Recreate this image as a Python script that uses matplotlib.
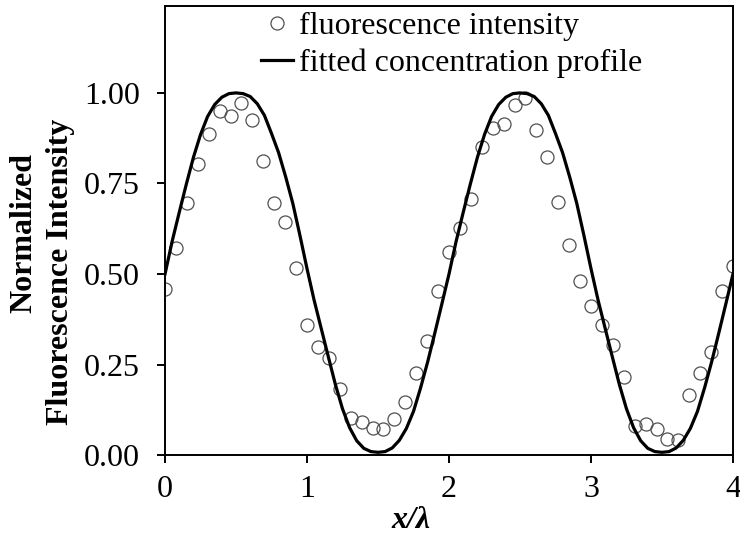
import matplotlib
matplotlib.use("Agg")
import matplotlib.pyplot as plt
from matplotlib.ticker import FormatStrFormatter

plt.rcParams["font.family"] = ["Liberation Serif", "DejaVu Serif"]

# measured fluorescence intensity along the channel
x_meas = [0.000, 0.077, 0.154, 0.231, 0.308, 0.385, 0.462, 0.538, 0.615, 0.692,
          0.769, 0.846, 0.923, 1.000, 1.077, 1.154, 1.231, 1.308, 1.385, 1.462,
          1.538, 1.615, 1.692, 1.769, 1.846, 1.923, 2.000, 2.077, 2.154, 2.231,
          2.308, 2.385, 2.462, 2.538, 2.615, 2.692, 2.769, 2.846, 2.923, 3.000,
          3.077, 3.154, 3.231, 3.308, 3.385, 3.462, 3.538, 3.615, 3.692, 3.769,
          3.846, 3.923, 4.000]
intensity = [0.459, 0.571, 0.695, 0.804, 0.886, 0.951, 0.937, 0.972, 0.926, 0.813,
             0.695, 0.644, 0.516, 0.360, 0.299, 0.268, 0.184, 0.104, 0.093, 0.076,
             0.073, 0.101, 0.146, 0.228, 0.315, 0.452, 0.561, 0.628, 0.706, 0.850,
             0.903, 0.915, 0.967, 0.985, 0.898, 0.823, 0.699, 0.580, 0.482, 0.413,
             0.360, 0.305, 0.216, 0.080, 0.087, 0.071, 0.046, 0.042, 0.166, 0.226,
             0.285, 0.452, 0.523]

# fitted concentration profile
x_fit = [0.00, 0.05, 0.10, 0.15, 0.20, 0.25, 0.30, 0.35, 0.40, 0.45,
         0.50, 0.55, 0.60, 0.65, 0.70, 0.75, 0.80, 0.85, 0.90, 0.95,
         1.00, 1.05, 1.10, 1.15, 1.20, 1.25, 1.30, 1.35, 1.40, 1.45,
         1.50, 1.55, 1.60, 1.65, 1.70, 1.75, 1.80, 1.85, 1.90, 1.95,
         2.00, 2.05, 2.10, 2.15, 2.20, 2.25, 2.30, 2.35, 2.40, 2.45,
         2.50, 2.55, 2.60, 2.65, 2.70, 2.75, 2.80, 2.85, 2.90, 2.95,
         3.00, 3.05, 3.10, 3.15, 3.20, 3.25, 3.30, 3.35, 3.40, 3.45,
         3.50, 3.55, 3.60, 3.65, 3.70, 3.75, 3.80, 3.85, 3.90, 3.95,
         4.00]
c_fit = [0.500, 0.590, 0.670, 0.748, 0.822, 0.885, 0.935, 0.968, 0.988, 0.998,
         1.000, 0.998, 0.990, 0.970, 0.938, 0.888, 0.835, 0.768, 0.695, 0.607,
         0.515, 0.428, 0.350, 0.272, 0.195, 0.128, 0.076, 0.040, 0.019, 0.010,
         0.008, 0.010, 0.020, 0.041, 0.074, 0.121, 0.186, 0.258, 0.337, 0.418,
         0.500, 0.590, 0.670, 0.748, 0.822, 0.885, 0.935, 0.968, 0.988, 0.998,
         1.000, 0.998, 0.990, 0.970, 0.938, 0.888, 0.835, 0.768, 0.695, 0.607,
         0.515, 0.428, 0.350, 0.272, 0.195, 0.128, 0.076, 0.040, 0.019, 0.010,
         0.008, 0.010, 0.020, 0.041, 0.074, 0.121, 0.186, 0.258, 0.337, 0.418,
         0.500]

xticks = [0, 1, 2, 3, 4]
yticks = [0.00, 0.25, 0.50, 0.75, 1.00]

fig = plt.figure(figsize=(7.4, 5.4), dpi=100)
ax = fig.add_axes([0.223, 0.157, 0.7675, 0.832])

ax.plot(x_meas, intensity, linestyle="none", marker="o", markersize=9.4,
        markerfacecolor="none", markeredgecolor="#505050", markeredgewidth=0.9,
        label="fluorescence intensity", zorder=2)
ax.plot(x_fit, c_fit, color="black", linewidth=2.3,
        label="fitted concentration profile", zorder=3)

ax.set_xlim(0, 4)
ax.set_ylim(0, 1.24)
ax.set_xticks(xticks)
ax.set_yticks(yticks)
ax.yaxis.set_major_formatter(FormatStrFormatter("%.2f"))
ax.tick_params(direction="out", length=6, width=1.4, labelsize=23)
ax.tick_params(axis="x", pad=8)
ax.tick_params(axis="y", pad=12)
for sp in ax.spines.values():
    sp.set_linewidth(1.4)

ax.set_xlabel("x/λ", fontsize=23, fontweight="bold", fontstyle="italic")
ax.xaxis.set_label_coords(0.433, -0.112)

fig.text(24 / 740, 1 - 233 / 540, "Normalized", rotation=90, fontsize=23,
         fontweight="bold", ha="center", va="center")
fig.text(61 / 740, 1 - 272 / 540, "Fluorescence Intensity", rotation=90,
         fontsize=23, fontweight="bold", ha="center", va="center")

ax.legend(loc="upper left", bbox_to_anchor=(0.163, 0.995), frameon=False,
          fontsize=23, handlelength=1.0, handletextpad=0.2,
          labelspacing=0.25, borderpad=0.1, borderaxespad=0)

fig.savefig("out.png", dpi=100)
plt.close(fig)
